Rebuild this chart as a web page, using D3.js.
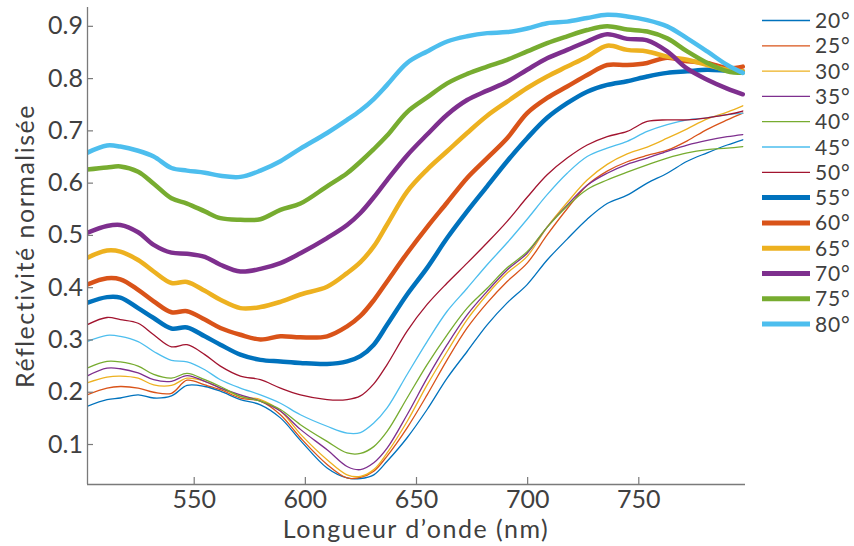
<!DOCTYPE html>
<html>
<head>
<meta charset="utf-8">
<script src="https://cdn.jsdelivr.net/npm/d3@7"></script>
<style>
  html, body { margin: 0; padding: 0; background: #fff; }
  svg { display: block; }
  text { font-family: Lato, "Open Sans", sans-serif; fill: #404040; }
</style>
</head>
<body>
<svg id="chart" width="854" height="546"></svg>
<script>
// Wavelengths (nm)
const wavelengths = [502, 511, 517, 525, 532, 540, 547, 555, 562, 571, 580, 589, 598, 610, 619, 625, 631, 637, 646, 655, 664, 673, 682, 691, 700, 709, 718, 727, 736, 745, 754, 763, 772, 781, 790, 797];

const angleLabels = ["20°", "25°", "30°", "35°", "40°", "45°", "50°", "55°", "60°", "65°", "70°", "75°", "80°"];

const r20 = [0.172, 0.185, 0.188, 0.194, 0.188, 0.192, 0.212, 0.210, 0.201, 0.185, 0.175, 0.150, 0.107, 0.054, 0.035, 0.034, 0.041, 0.067, 0.112, 0.166, 0.226, 0.277, 0.328, 0.370, 0.405, 0.452, 0.492, 0.530, 0.560, 0.576, 0.599, 0.618, 0.641, 0.657, 0.672, 0.682];
const r25 = [0.194, 0.207, 0.210, 0.207, 0.199, 0.197, 0.222, 0.213, 0.204, 0.188, 0.182, 0.156, 0.112, 0.061, 0.035, 0.036, 0.048, 0.077, 0.131, 0.194, 0.261, 0.322, 0.370, 0.411, 0.446, 0.500, 0.550, 0.595, 0.622, 0.640, 0.652, 0.662, 0.680, 0.702, 0.720, 0.733];
const r30 = [0.217, 0.228, 0.230, 0.226, 0.213, 0.212, 0.226, 0.220, 0.207, 0.191, 0.185, 0.163, 0.119, 0.070, 0.041, 0.038, 0.051, 0.083, 0.143, 0.213, 0.277, 0.338, 0.386, 0.427, 0.459, 0.515, 0.562, 0.605, 0.635, 0.655, 0.668, 0.685, 0.703, 0.722, 0.735, 0.747];
const r35 = [0.230, 0.245, 0.244, 0.236, 0.223, 0.220, 0.231, 0.220, 0.207, 0.194, 0.182, 0.163, 0.128, 0.089, 0.057, 0.051, 0.064, 0.092, 0.156, 0.226, 0.290, 0.347, 0.392, 0.433, 0.465, 0.515, 0.557, 0.595, 0.618, 0.635, 0.647, 0.660, 0.672, 0.681, 0.688, 0.692];
const r40 = [0.245, 0.258, 0.257, 0.249, 0.233, 0.226, 0.235, 0.223, 0.210, 0.191, 0.182, 0.166, 0.137, 0.105, 0.083, 0.082, 0.095, 0.124, 0.188, 0.252, 0.309, 0.360, 0.398, 0.437, 0.468, 0.515, 0.555, 0.587, 0.605, 0.620, 0.634, 0.647, 0.657, 0.663, 0.666, 0.669];
const r45 = [0.296, 0.308, 0.306, 0.296, 0.277, 0.260, 0.257, 0.242, 0.223, 0.207, 0.194, 0.178, 0.156, 0.134, 0.121, 0.122, 0.140, 0.169, 0.233, 0.296, 0.354, 0.398, 0.443, 0.485, 0.530, 0.577, 0.618, 0.650, 0.666, 0.679, 0.698, 0.711, 0.720, 0.724, 0.730, 0.733];
const r50 = [0.328, 0.342, 0.338, 0.331, 0.309, 0.286, 0.290, 0.271, 0.249, 0.230, 0.223, 0.207, 0.194, 0.185, 0.185, 0.192, 0.215, 0.252, 0.316, 0.367, 0.408, 0.446, 0.485, 0.526, 0.572, 0.615, 0.647, 0.672, 0.688, 0.698, 0.717, 0.720, 0.720, 0.724, 0.730, 0.737];
const r55 = [0.370, 0.381, 0.380, 0.360, 0.341, 0.321, 0.323, 0.306, 0.290, 0.271, 0.261, 0.258, 0.255, 0.253, 0.258, 0.268, 0.290, 0.328, 0.386, 0.437, 0.494, 0.545, 0.593, 0.641, 0.685, 0.724, 0.752, 0.774, 0.787, 0.794, 0.803, 0.810, 0.813, 0.816, 0.814, 0.813];
const r60 = [0.405, 0.417, 0.415, 0.395, 0.373, 0.352, 0.354, 0.338, 0.322, 0.309, 0.300, 0.306, 0.304, 0.306, 0.325, 0.345, 0.375, 0.411, 0.465, 0.515, 0.562, 0.609, 0.647, 0.685, 0.733, 0.762, 0.784, 0.806, 0.825, 0.825, 0.829, 0.839, 0.832, 0.829, 0.819, 0.822];
const r65 = [0.456, 0.470, 0.468, 0.452, 0.430, 0.408, 0.410, 0.393, 0.376, 0.360, 0.362, 0.372, 0.386, 0.401, 0.427, 0.448, 0.478, 0.520, 0.583, 0.625, 0.660, 0.695, 0.728, 0.755, 0.781, 0.803, 0.822, 0.841, 0.862, 0.854, 0.851, 0.841, 0.835, 0.825, 0.816, 0.813];
const r70 = [0.504, 0.517, 0.519, 0.505, 0.481, 0.466, 0.464, 0.458, 0.443, 0.430, 0.435, 0.446, 0.465, 0.494, 0.519, 0.542, 0.572, 0.605, 0.652, 0.692, 0.730, 0.758, 0.776, 0.793, 0.816, 0.838, 0.854, 0.870, 0.884, 0.875, 0.872, 0.851, 0.818, 0.797, 0.780, 0.769];
const r75 = [0.625, 0.629, 0.631, 0.621, 0.598, 0.570, 0.560, 0.545, 0.532, 0.529, 0.530, 0.548, 0.560, 0.593, 0.618, 0.640, 0.664, 0.690, 0.735, 0.763, 0.790, 0.808, 0.822, 0.835, 0.851, 0.867, 0.880, 0.892, 0.899, 0.893, 0.889, 0.876, 0.851, 0.829, 0.813, 0.810];
const r80 = [0.657, 0.671, 0.669, 0.661, 0.650, 0.628, 0.623, 0.619, 0.613, 0.611, 0.623, 0.641, 0.665, 0.695, 0.720, 0.738, 0.760, 0.787, 0.829, 0.851, 0.870, 0.880, 0.886, 0.888, 0.895, 0.905, 0.908, 0.915, 0.921, 0.918, 0.911, 0.899, 0.876, 0.851, 0.825, 0.810];

const xTicks = [550, 600, 650, 700, 750];
const yTicks = [0.1, 0.2, 0.3, 0.4, 0.5, 0.6, 0.7, 0.8, 0.9];

const colors = ["#0072BD", "#D95319", "#EDB120", "#7E2F8E", "#77AC30", "#4DBEEE", "#A2142F",
                "#0072BD", "#D95319", "#EDB120", "#7E2F8E", "#77AC30", "#4DBEEE"];
const allValues = [r20, r25, r30, r35, r40, r45, r50, r55, r60, r65, r70, r75, r80];

const series = angleLabels.map((label, i) => ({
  label,
  color: colors[i],
  thick: i >= 7,
  values: allValues[i].map((v, j) => ({ x: wavelengths[j], y: v }))
}));

const svg = d3.select("#chart");
const mLeft = 87, mRight = 745, mTop = 7, mBottom = 484;
const fontSize = 25;

const x = d3.scaleLinear().domain([502, 798]).range([mLeft, mRight]);
const y = d3.scaleLinear().domain([0.0235, 0.936]).range([mBottom, mTop]);

const axisColor = "#7a7a7a";

svg.append("defs").append("clipPath").attr("id", "clip")
  .append("rect").attr("x", mLeft).attr("y", mTop).attr("width", mRight - mLeft).attr("height", mBottom - mTop);

const line = d3.line().x(d => x(d.x)).y(d => y(d.y)).curve(d3.curveCatmullRom.alpha(0.5));

const g = svg.append("g").attr("clip-path", "url(#clip)");
g.selectAll("path.series").data(series).enter().append("path")
  .attr("class", "series")
  .attr("d", d => line(d.values))
  .attr("fill", "none")
  .attr("stroke", d => d.color)
  .attr("stroke-width", d => d.thick ? 4.5 : 1.3)
  .attr("stroke-linejoin", "round")
  .attr("stroke-linecap", "round");

const xAxis = d3.axisBottom(x).tickValues(xTicks).tickSize(-7).tickPadding(5).tickFormat(d3.format("d"));
const yAxis = d3.axisLeft(y).tickValues(yTicks).tickSize(-6).tickPadding(4).tickFormat(d3.format(".1f"));

const gx = svg.append("g").attr("transform", `translate(0,${mBottom})`).call(xAxis);
const gy = svg.append("g").attr("transform", `translate(${mLeft},0)`).call(yAxis);

[gx, gy].forEach(a => {
  a.attr("font-family", null).attr("font-size", null);
  a.select(".domain").attr("stroke", axisColor).attr("stroke-width", 1.3);
  a.selectAll(".tick line").attr("stroke", axisColor).attr("stroke-width", 1.2);
  a.selectAll(".tick text").attr("font-size", fontSize).attr("fill", "#404040");
});
gx.select(".domain").attr("d", `M${mLeft},0.5H${mRight}`);
gy.select(".domain").attr("d", `M0.5,${mBottom}V${mTop}`);
gx.selectAll(".tick text").attr("y", 23.5).attr("dy", null);

svg.append("text")
  .attr("x", (mLeft + mRight) / 2)
  .attr("y", 537.5)
  .attr("text-anchor", "middle")
  .attr("font-size", fontSize)
  .attr("letter-spacing", 1.5)
  .text("Longueur d’onde (nm)");

svg.append("text")
  .attr("transform", `translate(34,246) rotate(-90)`)
  .attr("text-anchor", "middle")
  .attr("font-size", fontSize)
  .attr("letter-spacing", 1.5)
  .text("Réflectivité normalisée");

// Legend
const legend = svg.append("g");
const rowH = 25.3, row0 = 20.5;
legend.selectAll("line").data(series).enter().append("line")
  .attr("x1", 762).attr("x2", 810)
  .attr("y1", (d, i) => row0 + i * rowH).attr("y2", (d, i) => row0 + i * rowH)
  .attr("stroke", d => d.color).attr("stroke-width", d => d.thick ? 5 : 1.3);
legend.selectAll("text").data(series).enter().append("text")
  .attr("x", 815)
  .attr("y", (d, i) => row0 + i * rowH + 7.5)
  .attr("font-size", 21)
  .attr("letter-spacing", 0.8)
  .text(d => d.label);
</script>
</body>
</html>
